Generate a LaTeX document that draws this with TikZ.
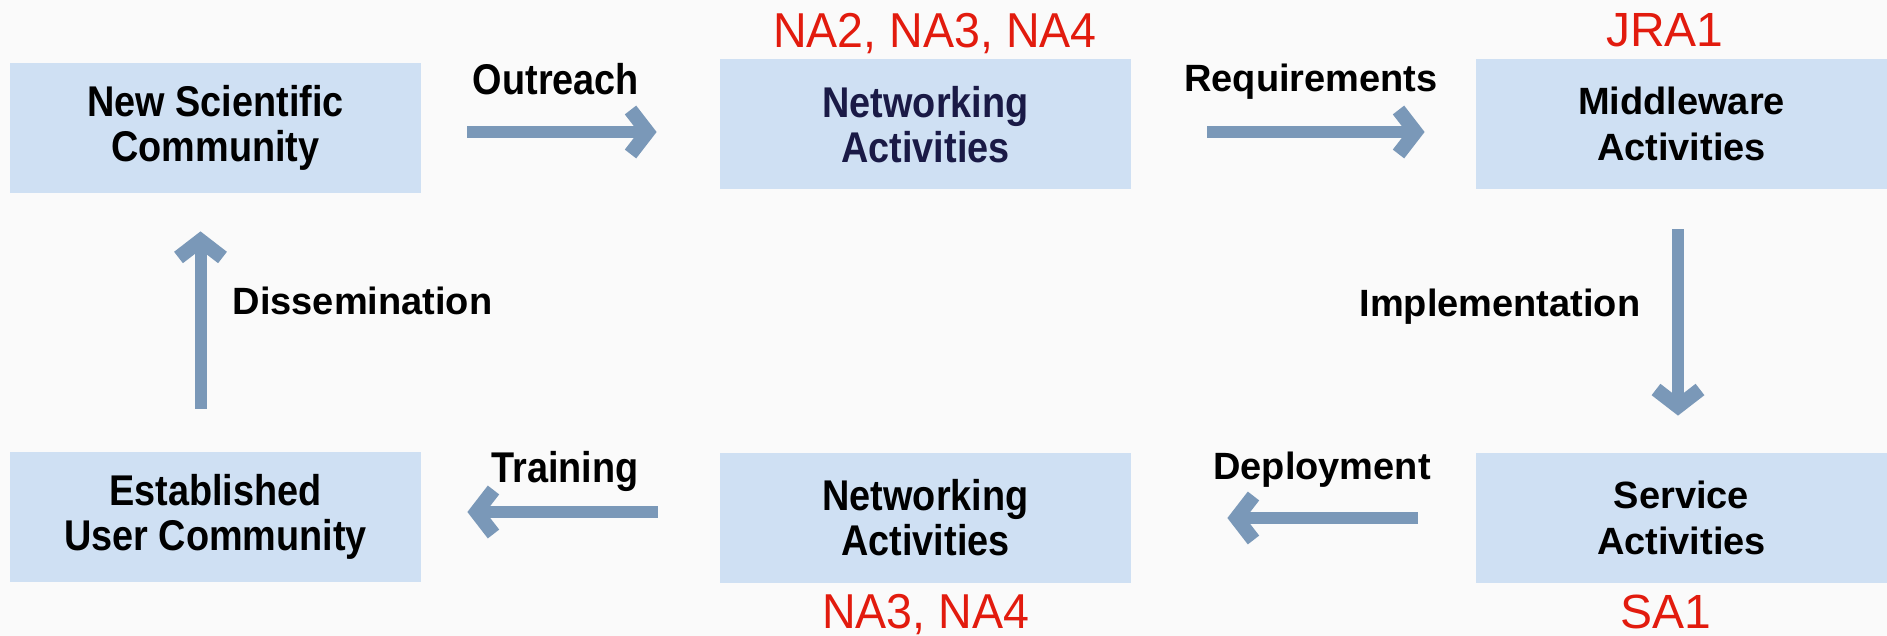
\documentclass[tikz,border=0pt]{standalone}
\usepackage{fontspec}
\setmainfont{Liberation Sans}
\newfontfamily\tallsans[FakeStretch=0.88]{Liberation Sans}
\newfontfamily\redsans[FakeStretch=0.95]{Liberation Sans}
\usetikzlibrary{arrows.meta}
\definecolor{bg}{RGB}{250,250,250}
\definecolor{boxfill}{RGB}{207,224,243}
\definecolor{flowblue}{RGB}{122,152,184}
\definecolor{redlbl}{RGB}{226,27,14}
\definecolor{navy}{RGB}{26,26,70}
\tikzset{
  actbox/.style={fill=boxfill, draw=none, minimum width=205.5pt, minimum height=65pt,
    inner sep=0pt, align=center, font=\fontsize{19}{23}\selectfont\bfseries},
  tallbox/.style={actbox, font=\tallsans\fontsize{21.5}{22.5}\selectfont\bfseries},
  flow/.style={draw=flowblue, line width=6pt, -{Straight Barb[length=8.5pt,width=22pt,line width=0pt 1.2]}},
  flowlbl/.style={font=\fontsize{19}{23}\selectfont\bfseries, inner sep=0pt, anchor=base},
  tallflowlbl/.style={flowlbl, font=\tallsans\fontsize{21.5}{23}\selectfont\bfseries},
  wplbl/.style={font=\fontsize{24}{28}\selectfont, text=redlbl, inner sep=0pt, anchor=base},
  tallwplbl/.style={wplbl, font=\redsans\fontsize{24.5}{28}\selectfont},
}
\begin{document}
\begin{tikzpicture}[x=0.5pt,y=-0.5pt]
\useasboundingbox (0,0) rectangle (1887,636);
\fill[bg] (0,0) rectangle (1887,636);

\node[tallbox] (nsc) at (215.5,128) {New Scientific\\Community};
\node[tallbox, text=navy] (net1) at (925.5,124.5) {Networking\\Activities};
\node[actbox] (mid) at (1681.5,124) {Middleware\\Activities};
\node[tallbox] (euc) at (215.5,517) {Established\\User Community};
\node[tallbox] (net2) at (925.5,518) {Networking\\Activities};
\node[actbox] (srv) at (1681.5,518) {Service\\Activities};

\node[tallwplbl] (w1) at (935,48) {NA2, NA3, NA4};
\node[wplbl] (w2) at (1665,47) {JRA1};
\node[tallwplbl] (w3) at (925.5,628) {NA3, NA4};
\node[wplbl] (w4) at (1666,628) {SA1};

\draw[flow, shorten <=23pt, shorten >=31.5pt] ([yshift=-2pt]nsc.east) -- ([yshift=-3.75pt]net1.west);
\draw[flow, shorten <=38pt, shorten >=25.5pt] ([yshift=-3.75pt]net1.east) -- ([yshift=-4pt]mid.west);
\draw[flow, shorten <=20pt, shorten >=18.5pt] ([xshift=-1.75pt]mid.south) -- ([xshift=-1.75pt]srv.north);
\draw[flow, shorten <=29pt, shorten >=48pt] (srv.west) -- (net2.east);
\draw[flow, shorten <=31pt, shorten >=23pt] ([yshift=3pt]net2.west) -- ([yshift=2.5pt]euc.east);
\draw[flow, shorten <=21.5pt, shorten >=19pt] ([xshift=-7.5pt]euc.north) -- ([xshift=-7.5pt]nsc.south);

\node[tallflowlbl] (l1) at (556,95) {Outreach};
\node[flowlbl] (l2) at (1311,92) {Requirements};
\node[flowlbl] (l3) at (1500,317) {Implementation};
\node[flowlbl] (l4) at (362.5,315) {Dissemination};
\node[tallflowlbl] (l5) at (565,483) {Training};
\node[flowlbl] (l6) at (1322,480) {Deployment};
\end{tikzpicture}
\end{document}
